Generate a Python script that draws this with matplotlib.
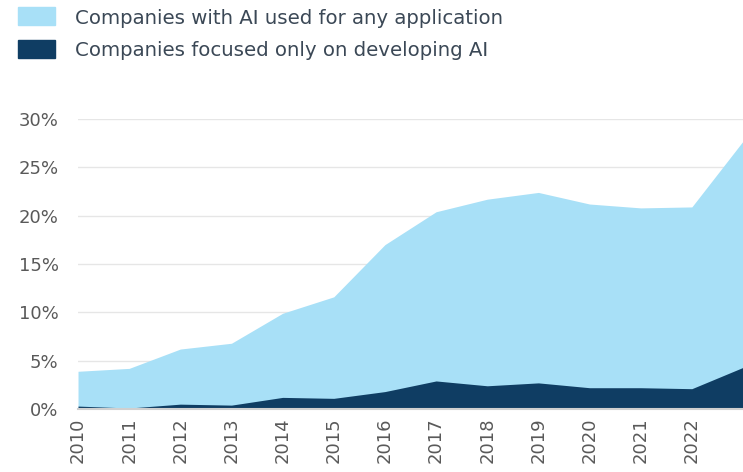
import matplotlib
matplotlib.use("Agg")
import matplotlib.pyplot as plt
from matplotlib.patches import Rectangle

years = list(range(2010, 2024))
year_labels = [str(y) for y in range(2010, 2023)]
any_application = [3.9, 4.2, 6.2, 6.8, 9.9, 11.6, 17.0, 20.4, 21.7, 22.4, 21.2, 20.8, 20.9, 27.7]
developing_only = [0.3, 0.1, 0.5, 0.4, 1.2, 1.1, 1.8, 2.9, 2.4, 2.7, 2.2, 2.2, 2.1, 4.3]
series_names = ["Companies with AI used for any application",
                "Companies focused only on developing AI"]

light = "#A8E0F7"
dark = "#0F3D63"
text_col = "#595959"

plt.rcParams['font.family'] = ['DejaVu Sans']

fig = plt.figure(figsize=(7.43, 4.72), dpi=100)
ax = fig.add_axes([0.105, 0.1335, 0.895, 0.6145])

ax.fill_between(years, 0, any_application, color=light, linewidth=0, zorder=2)
ax.fill_between(years, 0, developing_only, color=dark, linewidth=0, zorder=3)

ax.set_xlim(2010, 2023)
ax.set_ylim(0, 30)
ax.set_yticks(range(0, 31, 5))
ax.set_yticklabels([f"{v}%" for v in range(0, 31, 5)])
ax.set_xticks(range(2010, 2023))
ax.set_xticklabels(year_labels, rotation=90)
ax.tick_params(axis='both', length=0, labelsize=13, labelcolor=text_col)
ax.tick_params(axis='y', pad=14)
ax.tick_params(axis='x', pad=6)
ax.grid(axis='y', color="#E6E6E6", linewidth=1, zorder=1)
ax.set_axisbelow(True)
for side in ["top", "right", "left"]:
    ax.spines[side].set_visible(False)
ax.spines["bottom"].set_color("#D0D0D0")
ax.spines["bottom"].set_linewidth(1.5)
ax.spines["bottom"].set_zorder(4)

# legend drawn by hand at the top left
for i, (name, col) in enumerate(zip(series_names, [light, dark])):
    y = 1 - (16 + i * 32.5) / 472
    fig.patches.append(Rectangle((18 / 743, y - 9 / 472), 37 / 743, 18 / 472,
                                 transform=fig.transFigure, color=col))
    fig.text(75 / 743, y - 2 / 472, name, fontsize=14.2, color="#3B4856", va="center")

fig.savefig("out.png", dpi=100)
